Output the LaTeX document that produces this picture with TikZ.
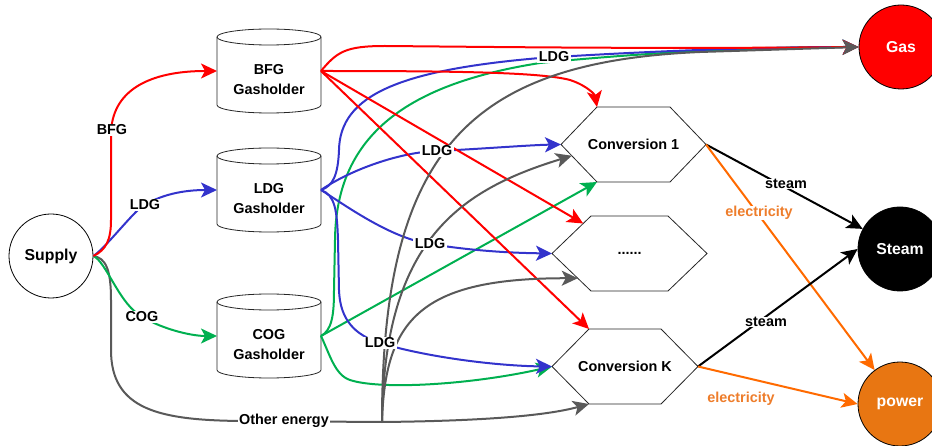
\documentclass[tikz,border=0pt]{standalone}
\usepackage{fontspec}
\setmainfont{Liberation Sans}
\usetikzlibrary{arrows.meta,calc}
\definecolor{cred}{HTML}{FF0000}
\definecolor{cblue}{HTML}{3333CC}
\definecolor{cgreen}{HTML}{00B050}
\definecolor{cgray}{HTML}{595959}
\definecolor{corange}{HTML}{FF6A00}
\definecolor{celec}{HTML}{EE7D2B}
\definecolor{cpower}{HTML}{E87612}
\newcommand\hexshape[6]{%
  \node[hexnode, minimum width=#4pt] (#1) at (#2,#3) {#6};
  \draw[shapeline] (#1.west) -- ($(#1.north west)+(#5,0)$) coordinate (#1-tl)
    -- ($(#1.north east)+(-#5,0)$) -- (#1.east) -- ($(#1.south east)+(-#5,0)$)
    -- ($(#1.south west)+(#5,0)$) coordinate (#1-bl) -- cycle;
}
\newcommand\gasholder[4]{%
  \node[holder] (#1) at (#2,#3) {};
  \draw[shapeline] ($(#1.north west)+(0,8)$) -- ($(#1.south west)+(0,-8)$)
    arc[start angle=180,end angle=360,x radius=52pt,y radius=8pt]
    -- ($(#1.north east)+(0,8)$);
  \draw[shapeline] ($(#1.north)+(0,8)$) ellipse [x radius=52pt, y radius=8pt];
  \node[align=center] (#1-text) at ($(#1.center)+(0,9)$) {#4};
}
\begin{document}
\begin{tikzpicture}[x=1pt,y=-1pt,
  every node/.style={font=\fontsize{14.4}{20}\selectfont\bfseries},
  flow/.style={line width=2pt, -{Stealth[length=16pt,width=15pt,inset=4pt]}},
  trunk/.style={line width=2pt},
  shapeline/.style={line width=0.8pt, draw=black!85},
  hexnode/.style={rectangle, minimum height=75pt, inner sep=0pt, outer sep=0pt},
  holder/.style={rectangle, minimum width=104pt, minimum height=84pt, inner sep=0pt, outer sep=0pt},
  endpoint/.style={circle, minimum size=84pt, inner sep=0pt, draw=black, line width=0.8pt,
    font=\fontsize{15.8}{20}\selectfont\bfseries},
  lbl/.style={fill=white, inner xsep=1.5pt, inner ysep=0.5pt},
]
\useasboundingbox (0,0) rectangle (932,446);

% nodes
\node[endpoint, fill=white] (supply) at (51,256) {Supply};
\node[endpoint, fill=cred, text=white] (gas) at (901,47) {Gas};
\node[endpoint, fill=black, text=white] (steam) at (900,249) {Steam};
\node[endpoint, fill=cpower, text=white] (power) at (900,404) {power};

\gasholder{bfg}{269}{71}{BFG\\Gasholder}
\gasholder{ldg}{269}{190}{LDG\\Gasholder}
\gasholder{cog}{269}{336}{COG\\Gasholder}

\hexshape{c1}{633.5}{144.5}{145}{36}{Conversion 1}
\hexshape{dots}{629.5}{253.5}{155}{39}{......}
\hexshape{ck}{625}{366.5}{146}{37}{Conversion K}

\coordinate (J) at (382,422);

% supply edges
\draw[trunk, cgray] (supply.east) .. controls (106,258) and (111,270) .. (111,300) -- (111,350)
  .. controls (111,410) and (160,420) .. (240,421) -- (J);
\draw[flow, cgreen] (supply.east) .. controls (106,262) and (118,300) .. (138,314)
  .. controls (158,328) and (190,336) .. (cog.west);
\draw[flow, cblue] (supply.east) .. controls (105,248) and (125,222) .. (140,208)
  .. controls (160,194) and (185,190) .. (ldg.west);
\draw[flow, cred] (supply.east) .. controls (106,250) and (111,240) .. (111,220) -- (111,135)
  .. controls (111,90) and (150,71) .. (bfg.west);

% green edges from COG
\draw[flow, cgreen] (cog.east) .. controls (332,330) and (334,315) .. (334,290) -- (335,240)
  .. controls (336,140) and (400,85) .. (540,63) .. controls (650,52) and (760,47) .. (gas.west);
\draw[flow, cgreen] (cog.east) -- (c1-bl);
\draw[flow, cgreen] (cog.east) .. controls (330,355) and (335,375) .. (350,380)
  .. controls (380,390) and (470,385) .. (ck.west);

% blue edges from LDG
\draw[flow, cblue] (ldg.east) .. controls (333,186) and (338,175) .. (339,150)
  .. controls (340,95) and (400,70) .. (540,58) .. controls (650,51) and (760,47) .. (gas.west);
\draw[flow, cblue] (ldg.east) .. controls (350,170) and (400,152) .. (437,151)
  .. controls (480,149) and (530,145) .. (c1.west);
\draw[flow, cblue] (ldg.east) .. controls (345,205) and (390,238) .. (430,244)
  .. controls (480,252) and (520,253) .. (dots.west);
\draw[flow, cblue] (ldg.east) .. controls (335,195) and (337,210) .. (338,240) -- (339,290)
  .. controls (340,320) and (355,335) .. (380,343) .. controls (430,358) and (500,366) .. (ck.west);

% red edges from BFG
\draw[flow, cred] (bfg.east) .. controls (337,52) and (345,46) .. (385,46)
  .. controls (500,47) and (650,49) .. (gas.west);
\draw[flow, cred] (bfg.east) .. controls (450,71) and (540,72) .. (570,80)
  .. controls (588,86) and (595,95) .. (c1-tl);
\draw[flow, cred] (bfg.east) -- ($(dots.west)!0.8!(dots-tl)$);
\draw[flow, cred] (bfg.east) -- (ck-tl);

% gray branches (other energy)
\draw[flow, cgray] (J) .. controls (382,150) and (470,62) .. (700,52) -- (gas.west);
\draw[flow, cgray] (J) .. controls (384,240) and (460,190) .. ($(c1.west)!0.3!(c1-bl)$);
\draw[flow, cgray] (J) .. controls (385,320) and (420,278) .. ($(dots.west)!0.66!(dots-bl)$);
\draw[flow, cgray] (J) .. controls (480,421) and (545,416) .. (ck-bl);

% outputs
\draw[flow, black] (c1.east) -- (steam);
\draw[flow, corange] (c1.east) -- (power);
\draw[flow, black] (ck.east) -- (steam.west);
\draw[flow, corange] (ck.east) -- (power.west);

% labels
\node[lbl] (l-bfg) at (112,130) {BFG};
\node[lbl] (l-ldg) at (145,205) {LDG};
\node[lbl] (l-cog) at (142,317) {COG};
\node[lbl] (l-other) at (284,421) {Other energy};
\node[lbl] (l-ldg1) at (554,57) {LDG};
\node[lbl] (l-ldg2) at (437,151) {LDG};
\node[lbl] (l-ldg3) at (430,244) {LDG};
\node[lbl] (l-ldg4) at (380,343) {LDG};
\node[lbl] (l-steam1) at (786,184) {steam};
\node[lbl, text=celec] (l-el1) at (759,213) {electricity};
\node[lbl] (l-steam2) at (766,322) {steam};
\node[lbl, text=celec] (l-el2) at (741,399) {electricity};
\end{tikzpicture}
\end{document}
